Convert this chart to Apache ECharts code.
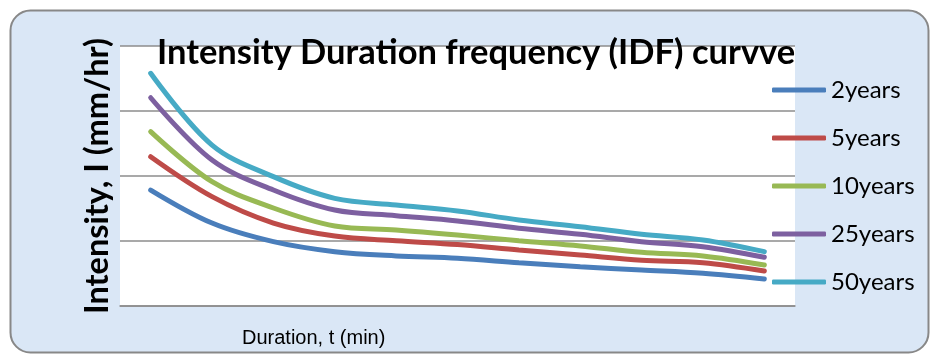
<!DOCTYPE html>
<html>
<head>
<meta charset="utf-8">
<script src="https://cdn.jsdelivr.net/npm/echarts@6/dist/echarts.min.js"></script>
<style>
  html, body { margin: 0; padding: 0; background: #ffffff; }
  #chart { width: 930px; height: 355px; }
</style>
</head>
<body>
<div id="chart"></div>
<script>
// Storm durations (min) along the x axis
const durations = ['5', '10', '15', '20', '30', '45', '60', '90', '120', '180', '240'];

// Rainfall intensity (mm/hr) for each return period
const years2  = [89.2, 63.8, 49.5, 41.8, 38.5, 36.7, 33.3, 30.2, 27.7, 25.2, 20.8];
const years5  = [114.8, 84.1, 63.8, 53.8, 50.2, 47.3, 43.1, 39.2, 35.2, 33.3, 26.9];
const years10 = [134.1, 95.6, 75.4, 61.5, 58.5, 54.6, 50.2, 46.2, 41.3, 38.5, 31.5];
const years25 = [160.2, 112.3, 89.2, 73.8, 69.5, 65.4, 59.8, 55.2, 49.5, 45.6, 37.5];
const years50 = [179.0, 123.8, 99.5, 82.8, 77.7, 73.1, 66.2, 61.0, 55.2, 50.8, 41.8];

const seriesNames = ['2years', '5years', '10years', '25years', '50years'];
const seriesData = [years2, years5, years10, years25, years50];
const colors = ['#4a7ebb', '#be4b48', '#98b954', '#7d60a0', '#46aac5'];

const chart = echarts.init(document.getElementById('chart'), null, { renderer: 'canvas' });

chart.setOption({
  animation: false,
  color: colors,
  graphic: [{
    type: 'rect',
    z: -10,
    silent: true,
    shape: { x: 10.5, y: 10.5, width: 918, height: 342, r: 20 },
    style: { fill: '#dae7f6', stroke: '#888888', lineWidth: 2 }
  }],
  title: [{
    text: 'Intensity Duration frequency (IDF) curvve',
    left: 152,
    top: 30,
    textStyle: { fontFamily: 'Lato', fontWeight: 'bold', fontSize: 34.5, color: '#000000' }
  }, {
    text: 'Duration, t (min)',
    left: 237,
    top: 323,
    textStyle: { fontFamily: 'Liberation Sans', fontWeight: 'normal', fontSize: 20, color: '#000000' }
  }],
  legend: {
    orient: 'vertical',
    left: 767,
    top: 73,
    itemWidth: 54,
    itemHeight: 5,
    itemGap: 24,
    icon: 'roundRect',
    data: seriesNames,
    textStyle: { fontFamily: 'Lato', fontSize: 24, color: '#000000', lineHeight: 24 }
  },
  grid: {
    left: 120, right: 135, top: 46, bottom: 49,
    show: true, backgroundColor: '#ffffff', borderWidth: 0
  },
  xAxis: {
    type: 'category',
    data: durations,
    boundaryGap: true,
    axisLine: { show: true, lineStyle: { color: '#8c8c8c', width: 1.5 } },
    axisTick: { show: false },
    axisLabel: { show: false },
    splitLine: { show: false }
  },
  yAxis: {
    type: 'value',
    min: 0, max: 200, interval: 50,
    name: 'Intensity, I (mm/hr)',
    nameLocation: 'middle',
    nameGap: 6,
    nameTextStyle: { fontFamily: 'Lato', fontWeight: 'bold', fontSize: 32.5, color: '#000000' },
    axisLine: { show: false },
    axisTick: { show: false },
    axisLabel: { show: false },
    splitLine: { show: true, lineStyle: { color: '#8c8c8c', width: 1.5 } }
  },
  series: seriesNames.map((name, i) => ({
    name: name,
    type: 'line',
    data: seriesData[i],
    smooth: 0.35,
    symbol: 'none',
    lineStyle: { width: 5, color: colors[i], cap: 'round' },
    itemStyle: { color: colors[i] }
  }))
});
</script>
</body>
</html>
